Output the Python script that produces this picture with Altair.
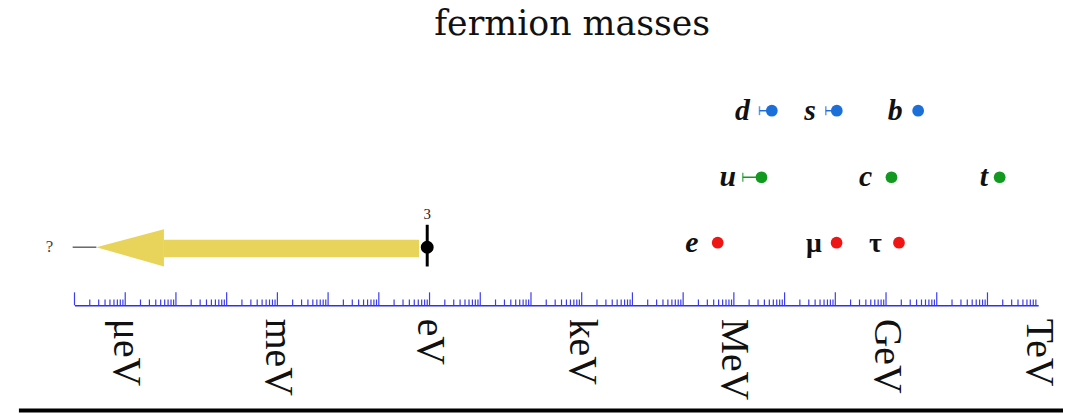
import altair as alt
import pandas as pd

# ---------------- data (masses in eV) ----------------
names = ["d", "s", "b", "u", "c", "t", "e", "μ", "τ"]
family = ["down", "down", "down", "up", "up", "up", "lepton", "lepton", "lepton"]
masses = [5.6e6, 1.07e8, 4.3e9, 3.5e6, 1.28e9, 1.74e11, 4.8e5, 1.06e8, 1.8e9]
mass_low = [3.2e6, 6.5e7, None, 1.5e6, None, None, None, None, None]
label_at = [1.48e6, 3.16e7, 1.52e9, 7.6e5, 3.98e8, 8.5e10, 1.48e5, 3.8e7, 6.2e8]
italic = [True, True, True, True, True, True, True, False, False]
row_level = {"down": 7.37, "up": 4.85, "lepton": 2.37}
fam_domain = ["down", "up", "lepton"]
fam_colors = ["#1c6fd8", "#119a1f", "#f01515"]

# neutrino
nu_mass = [0.9]
nu_row = [2.2]
nu_bar_lo = [1.47]
nu_bar_hi = [3.05]
nu_label = ["3"]
nu_label_row = [3.45]
# arrow (upper bound going to lower masses)
arrow_tip = [2.7e-7]
arrow_neck = [5.8e-6]
arrow_end = [0.62]
shaft_lo, shaft_hi = [1.82], [2.48]
head_lo, head_hi = [1.47], [2.88]
dash_start = [9.2e-8]
q_mark_at = [3.2e-8]

# axis
unit_values = [1e-6, 1e-3, 1.0, 1e3, 1e6, 1e9, 1e12]
unit_labels = ["μeV", "meV", "eV", "keV", "MeV", "GeV", "TeV"]
decades = list(range(-7, 12))
minor_mult = [2, 3, 4, 5, 6, 7, 8, 9]

# ---------------- tables ----------------
df = pd.DataFrame({
    "name": names, "family": family, "mass": masses, "low": mass_low,
    "label_x": label_at, "italic": italic,
})
df["row"] = df["family"].map(row_level)

ticks = []
for k in decades:
    ticks.append({"v": 10.0 ** k, "h": 0.49})
    for m in minor_mult:
        ticks.append({"v": m * 10.0 ** k, "h": 0.22})
tick_df = pd.DataFrame(ticks)

nu_df = pd.DataFrame({"mass": nu_mass, "row": nu_row, "lo": nu_bar_lo,
                      "hi": nu_bar_hi, "lab": nu_label, "lrow": nu_label_row})
shaft_df = pd.DataFrame({"x": arrow_neck, "x2": arrow_end, "y": shaft_lo, "y2": shaft_hi})
head_df = pd.DataFrame({
    "x": [arrow_tip[0], arrow_neck[0]],
    "y": [nu_row[0], head_hi[0]],
    "y2": [nu_row[0], head_lo[0]],
})
dash_df = pd.DataFrame({"x": dash_start, "x2": arrow_tip, "y": nu_row})
q_df = pd.DataFrame({"x": q_mark_at, "y": nu_row, "t": ["?"]})

label_expr = " : ".join(
    f"datum.value < {v * 5:g} ? '{l}'" for v, l in zip(unit_values[:-1], unit_labels[:-1])
) + f" : '{unit_labels[-1]}'"

PLOT_H = 260
xscale = alt.Scale(type="log", domain=[1e-7, 1e12], nice=False)
yscale = alt.Scale(domain=[0, PLOT_H / 26.6], nice=False, zero=False)
color_scale = alt.Scale(domain=fam_domain, range=fam_colors)

X = lambda f: alt.X(f, type="quantitative", scale=xscale)
Y = lambda f: alt.Y(f, type="quantitative", scale=yscale, axis=None)

# axis layer (labels + domain line + upward ticks)
axis_layer = alt.Chart(tick_df).mark_rule(color="#3b3bf2", strokeWidth=1.2).encode(
    x=alt.X("v:Q", scale=xscale, axis=alt.Axis(
        values=unit_values, labelExpr=label_expr, ticks=False, grid=False,
        domainColor="#3030ee", domainWidth=1.6, labelAngle=90,
        labelFont="Liberation Serif", labelFontSize=40, labelColor="#111111",
        labelPadding=13, labelOverlap=False, labelFlush=False, labelBound=False,
        title=None)),
    y=alt.Y("zero:Q", scale=yscale, axis=None),
    y2="h:Q",
).transform_calculate(zero="0")

shaft = alt.Chart(shaft_df).mark_rect(color="#e8d45a").encode(
    x=X("x"), x2="x2", y=Y("y"), y2="y2")
head = alt.Chart(head_df).mark_area(color="#e8d45a", opacity=1).encode(
    x=X("x"), y=Y("y"), y2="y2")
dash = alt.Chart(dash_df).mark_rule(color="#666666", strokeWidth=1.5).encode(
    x=X("x"), x2="x2", y=Y("y"))
qmark = alt.Chart(q_df).mark_text(font="Liberation Serif", fontSize=17, color="#444444",
                                   baseline="middle").encode(
    x=X("x"), y=Y("y"), text="t")

nu_bar = alt.Chart(nu_df).mark_rule(color="black", strokeWidth=3).encode(
    x=X("mass"), y=Y("lo"), y2="hi")
nu_dot = alt.Chart(nu_df).mark_circle(color="black", size=170, opacity=1).encode(
    x=X("mass"), y=Y("row"))
nu_text = alt.Chart(nu_df).mark_text(font="Liberation Serif", fontSize=15, color="#222",
                                     baseline="middle").encode(
    x=X("mass"), y=Y("lrow"), text="lab")

err = alt.Chart(df).transform_filter("isValid(datum.low)").mark_rule(strokeWidth=1.5).encode(
    x=X("low"), x2="mass", y=Y("row"),
    color=alt.Color("family:N", scale=color_scale, legend=None))
cap = alt.Chart(df).transform_filter("isValid(datum.low)").mark_tick(
    orient="vertical", size=9, thickness=1.5).encode(
    x=X("low"), y=Y("row"),
    color=alt.Color("family:N", scale=color_scale, legend=None))
dots = alt.Chart(df).mark_circle(size=140, opacity=1).encode(
    x=X("mass"), y=Y("row"),
    color=alt.Color("family:N", scale=color_scale, legend=None))
lab_it = alt.Chart(df).transform_filter("datum.italic").mark_text(
    font="Liberation Serif", fontSize=30, fontStyle="italic", fontWeight="bold",
    color="#111", baseline="alphabetic", dy=9).encode(
    x=X("label_x"), y=Y("row"), text="name")
lab_up = alt.Chart(df).transform_filter("!datum.italic").mark_text(
    font="Liberation Serif", fontSize=28, fontWeight="bold",
    color="#111", baseline="alphabetic", dy=9).encode(
    x=X("label_x"), y=Y("row"), text="name")

bottom_bar = alt.Chart(q_df).mark_rule(color="black", strokeWidth=4).encode(
    x=alt.value(-56), x2=alt.value(996), y=alt.value(366))

chart = alt.layer(
    axis_layer, shaft, head, dash, qmark, nu_bar, nu_dot, nu_text,
    err, cap, dots, lab_it, lab_up, bottom_bar,
).properties(
    width=971, height=PLOT_H,
    title=alt.TitleParams("fermion masses", font="DejaVu Serif", fontSize=35,
                          fontWeight="normal", anchor="middle", dx=16, offset=5,
                          color="#111"),
    autosize=alt.AutoSizeParams(type="none"),
    padding={"left": 67, "top": 38, "right": 25, "bottom": 110},
    background="white",
).configure_view(stroke=None)

chart.save("out.html", embed_options={"renderer": "svg", "actions": False})
